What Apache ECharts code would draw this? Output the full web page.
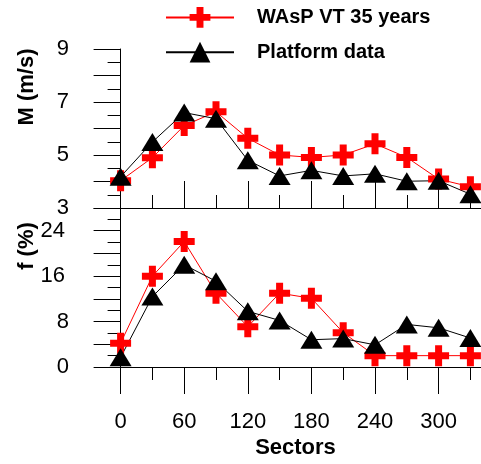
<!DOCTYPE html>
<html>
<head>
<meta charset="utf-8">
<script src="https://cdn.jsdelivr.net/npm/echarts@6/dist/echarts.min.js"></script>
<style>
  html, body { margin: 0; padding: 0; background: #fff; }
  #chart { width: 481px; height: 464px; }
</style>
</head>
<body>
<div id="chart"></div>
<script>
const sectors = [0, 30, 60, 90, 120, 150, 180, 210, 240, 270, 300, 330]
const majorTicks = [0, 60, 120, 180, 240, 300]
const minorTicks = [30, 90, 150, 210, 270, 330]

// mean wind speed M (m/s)
const waspM = [4.03, 4.9, 6.11, 6.63, 5.63, 5.0, 4.91, 5.0, 5.42, 4.91, 4.09, 3.8]
const platformM = [4.18, 5.49, 6.6, 6.37, 4.8, 4.21, 4.42, 4.21, 4.29, 4.01, 4.03, 3.52]

// frequency f (%)
const waspF = [4.2, 16.0, 22.1, 13.0, 7.1, 13.0, 12.1, 6.05, 2.0, 2.0, 2.0, 2.0]
const platformF = [1.7, 12.4, 18.0, 15.1, 9.8, 8.2, 4.8, 5.0, 3.9, 7.5, 6.9, 5.1]

const font = "'Liberation Sans', Arial, sans-serif"
const crossPath = 'path://M7,0h7v7h7v7h-7v7h-7v-7h-7v-7h7z'
const black = '#000'
const red = '#ff0000'

const pair = (ys) => sectors.map((s, i) => [s, ys[i]])

const xAxisFor = (gridIndex, ticks, len, inside, labels) => ({
  type: 'value',
  gridIndex,
  min: -10,
  max: 340,
  position: 'bottom',
  axisLine: { show: true, lineStyle: { color: black, width: 1 } },
  axisTick: { show: true, inside, length: len, customValues: ticks, lineStyle: { color: black } },
  axisLabel: labels
    ? { show: true, customValues: majorTicks, margin: 44, color: black, fontSize: 22, fontFamily: font }
    : { show: false },
  splitLine: { show: false },
  name: labels ? 'Sectors' : '',
  nameLocation: 'middle',
  nameGap: 70,
  nameTextStyle: { color: black, fontSize: 22, fontWeight: 'bold', fontFamily: font }
})

const yAxisFor = (gridIndex, min, max, interval, labelEvery) => ({
  type: 'value',
  gridIndex,
  min,
  max,
  interval,
  axisLine: { show: true, lineStyle: { color: black, width: 1 } },
  axisTick: { show: true, length: 27, lineStyle: { color: black } },
  minorTick: { show: true, splitNumber: 2, length: 13, lineStyle: { color: black } },
  axisLabel: {
    margin: 41,
    color: black,
    fontSize: 22,
    fontFamily: font,
    formatter: (v) => {
      if ((v - min) % labelEvery !== 0) return ''
      return v >= 10 ? '{w|' + v + '}' : String(v)
    },
    rich: { w: { color: black, fontSize: 22, fontFamily: font, padding: [0, 4, 0, 0] } }
  },
  splitLine: { show: false },
  minorSplitLine: { show: false }
})

const seriesFor = (name, data, xi, yi, color, symbol, size) => ({
  name,
  type: 'line',
  xAxisIndex: xi,
  yAxisIndex: yi,
  data,
  symbol,
  symbolSize: size,
  showAllSymbol: true,
  lineStyle: { color, width: 1 },
  itemStyle: { color, borderWidth: 0 },
  emphasis: { disabled: true },
  animation: false
})

const chart = echarts.init(document.getElementById('chart'), null, { renderer: 'canvas' })

chart.setOption({
  backgroundColor: '#fff',
  animation: false,
  legend: {
    orient: 'vertical',
    left: 165,
    top: 7,
    padding: 0,
    itemWidth: 68,
    itemHeight: 26,
    itemGap: 14,
    textStyle: { color: black, fontSize: 20, fontWeight: 'bold', fontFamily: font, padding: [0, 0, 0, 18] },
    data: ['WAsP VT 35 years', 'Platform data']
  },
  grid: [
    { left: 110, right: 0, top: 49, height: 159, containLabel: false },
    { left: 110, right: 0, top: 208, height: 159, containLabel: false }
  ],
  xAxis: [
    xAxisFor(0, majorTicks, 27, true, false),
    xAxisFor(0, minorTicks, 13, true, false),
    xAxisFor(1, majorTicks, 27, false, true),
    xAxisFor(1, minorTicks, 13, false, false)
  ],
  yAxis: [
    yAxisFor(0, 3, 9, 1, 2),
    yAxisFor(1, 0, 28, 4, 8)
  ],
  graphic: [
    {
      type: 'text',
      x: 27,
      y: 87,
      rotation: Math.PI / 2,
      style: { text: 'M (m/s)', fill: black, font: 'bold 22px ' + font, align: 'center', verticalAlign: 'middle' }
    },
    {
      type: 'text',
      x: 27,
      y: 246,
      rotation: Math.PI / 2,
      style: { text: 'f (%)', fill: black, font: 'bold 22px ' + font, align: 'center', verticalAlign: 'middle' }
    }
  ],
  series: [
    seriesFor('WAsP VT 35 years', pair(waspM), 0, 0, red, crossPath, 21),
    seriesFor('Platform data', pair(platformM), 0, 0, black, 'triangle', [22, 18]),
    seriesFor('WAsP VT 35 years', pair(waspF), 2, 1, red, crossPath, 21),
    seriesFor('Platform data', pair(platformF), 2, 1, black, 'triangle', [22, 18])
  ]
})
</script>
</body>
</html>
